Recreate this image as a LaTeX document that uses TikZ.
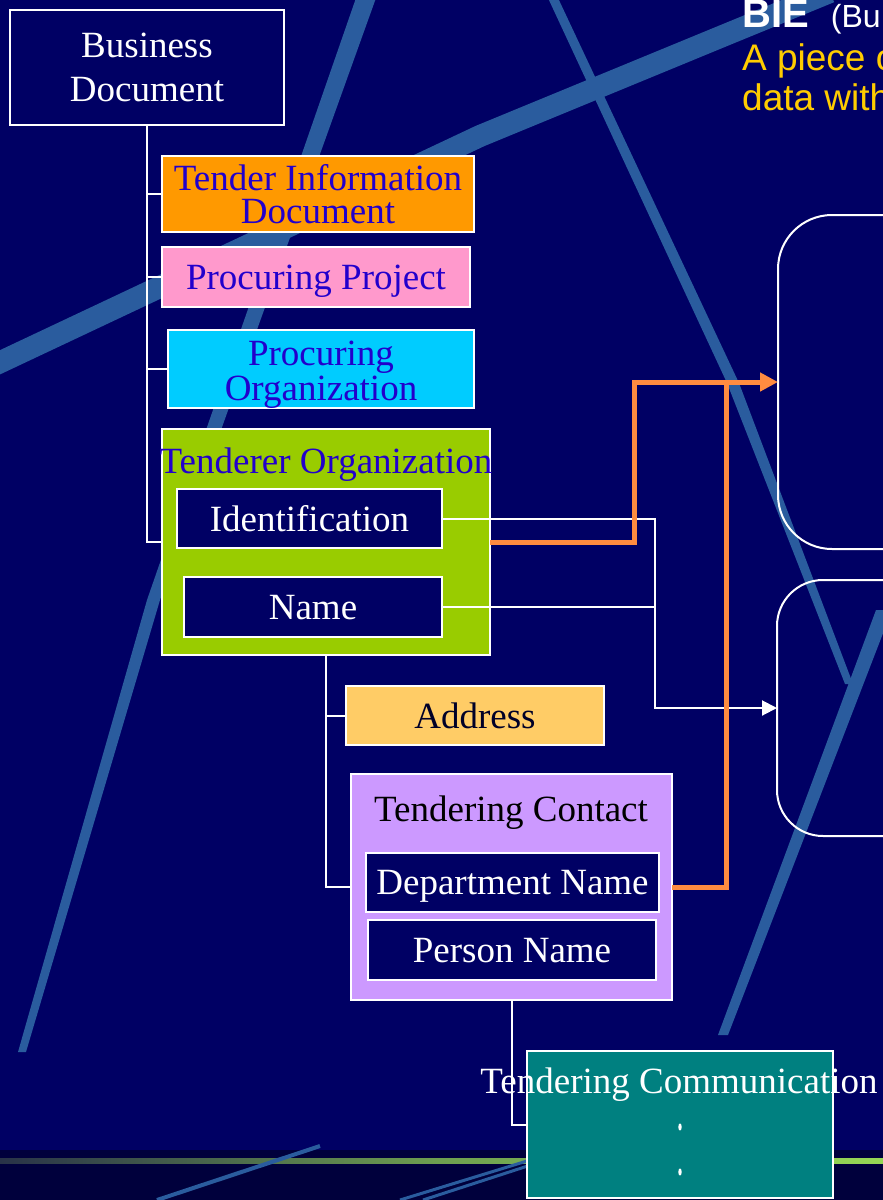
\documentclass[tikz,border=0pt]{standalone}
\usepackage{fontspec}
\setmainfont{Liberation Serif}
\newfontfamily\sansfont{Liberation Sans}
\usetikzlibrary{arrows.meta}
\definecolor{navy}{RGB}{0,0,100}
\definecolor{navydark}{RGB}{0,0,60}
\definecolor{stripecol}{RGB}{42,92,158}
\definecolor{orangebox}{RGB}{255,153,0}
\definecolor{pinkbox}{RGB}{255,153,204}
\definecolor{cyanbox}{RGB}{0,204,255}
\definecolor{greenbox}{RGB}{153,204,0}
\definecolor{addrbox}{RGB}{255,204,102}
\definecolor{lilacbox}{RGB}{204,153,255}
\definecolor{tealbox}{RGB}{0,128,128}
\definecolor{bluetext}{RGB}{34,0,204}
\definecolor{darktext}{RGB}{0,0,40}
\definecolor{linkorange}{RGB}{255,140,64}
\definecolor{bieyellow}{RGB}{255,204,0}
\definecolor{greenleft}{RGB}{40,50,72}
\definecolor{greenmid}{RGB}{110,160,80}
\definecolor{greenright}{RGB}{150,215,85}
\begin{document}
\begin{tikzpicture}[x=1pt,y=-1pt,
  tbox/.style={draw=white, line width=2pt, inner sep=0pt, outer sep=0pt, anchor=north west},
  boxtxt/.style={font=\fontsize{37}{40}\selectfont, text depth=0pt},
  ttl/.style={font=\fontsize{37}{40}\selectfont, inner sep=0pt, anchor=base},
  tree/.style={draw=white, line width=2pt},
  wlink/.style={draw=white, line width=2pt},
  olink/.style={draw=linkorange, line width=5pt},
  bietxt/.style={anchor=base west, inner sep=0pt},
  dotmark/.style={fill=white}
]
\useasboundingbox (0,0) rectangle (883,1200);
\clip (0,0) rectangle (883,1200);
% background
\fill[navy] (0,0) rectangle (883,1200);
\fill[navydark] (0,1150) rectangle (883,1200);
\shade[left color=greenleft, right color=greenright, middle color=greenmid] (0,1158.5) rectangle (883,1163.5);
% decorative stripes
\draw[stripecol, line width=22pt, line join=round] (-10,367) -- (480,136) -- (730,33) -- (830,-8);
\fill[stripecol] (356,-2) -- (376,-2) -- (160,600) -- (26,1052) -- (18,1052) -- (147,600) -- cycle;
\fill[stripecol] (548,-2) -- (558,-2) -- (739,383) -- (853,684) -- (845,684) -- (727,383) -- cycle;
\fill[stripecol] (876,610) -- (892,610) -- (728,1035) -- (718,1035) -- cycle;
\draw[stripecol, line width=4pt] (157,1200) -- (320,1146);
\draw[stripecol, line width=3pt] (400,1200) -- (540,1157);
\draw[stripecol, line width=3pt] (423,1200) -- (540,1162);

% BIE text
\node[bietxt, text=white, font=\sansfont\bfseries\fontsize{40}{42}\selectfont] (bie-t) at (742,27) {BIE\hspace{22pt}{\mdseries\fontsize{32}{36}\selectfont(Bu}};
\node[bietxt, text=bieyellow, font=\sansfont\fontsize{37}{40}\selectfont] (bie-l1) at (742,70) {A piece o};
\node[bietxt, text=bieyellow, font=\sansfont\fontsize{37}{40}\selectfont] (bie-l2) at (742,110) {data with};

% BIE boxes
\node[tbox, rounded corners=54pt, minimum width=220pt, minimum height=334pt] (bie1) at (778,215) {};
\node[tbox, rounded corners=46pt, minimum width=220pt, minimum height=256pt] (bie2) at (777,580) {};

% tree boxes
\node[tbox, fill=navy, minimum width=274pt, minimum height=115pt, align=center, text=white, font=\fontsize{37}{44}\selectfont] (bd) at (10,10) {Business\\Document};
\node[tbox, fill=orangebox, minimum width=312pt, minimum height=76pt, align=center, text=bluetext, font=\fontsize{37}{33}\selectfont] (tid) at (162,156) {Tender Information\\Document};
\node[tbox, boxtxt, fill=pinkbox, minimum width=308pt, minimum height=60pt, text=bluetext] (pp) at (162,247) {Procuring Project};
\node[tbox, fill=cyanbox, minimum width=306pt, minimum height=72pt, align=center, text=bluetext, font=\fontsize{37}{35}\selectfont] (po) at (168,330) {\rule{0pt}{35pt}Procuring\\Organization};

\node[tbox, fill=greenbox, minimum width=328pt, minimum height=226pt] (tend) at (162,429) {};
\node[ttl, text=bluetext] (tend-t) at (326,473) {Tenderer Organization};
\node[tbox, boxtxt, fill=navy, minimum width=265pt, minimum height=59pt, text=white] (ident) at (177,489) {Identification};
\node[tbox, boxtxt, fill=navy, minimum width=258pt, minimum height=60pt, text=white] (name) at (184,577) {Name};

\node[tbox, boxtxt, fill=addrbox, minimum width=258pt, minimum height=59pt, text=darktext] (addr) at (346,686) {Address};
\node[tbox, fill=lilacbox, minimum width=321pt, minimum height=226pt] (tcont) at (351,774) {};
\node[ttl, text=black] (tcont-t) at (511,821) {Tendering Contact};
\node[tbox, boxtxt, fill=navy, minimum width=293pt, minimum height=59pt, text=white] (dept) at (366,853) {Department Name};
\node[tbox, boxtxt, fill=navy, minimum width=288pt, minimum height=60pt, text=white] (pers) at (368,920) {Person Name};

\node[tbox, fill=tealbox, minimum width=306pt, minimum height=147pt] (tcomm) at (527,1051) {};
\node[ttl, text=white] (tcomm-t) at (679,1093) {Tendering Communication};
\fill[dotmark] (680,1127) ellipse [x radius=1.7pt, y radius=3.6pt];
\fill[dotmark] (680,1172) ellipse [x radius=1.7pt, y radius=3.6pt];

% tree connectors
\draw[tree] (bd.south) |- (tid.west);
\draw[tree] (bd.south) |- (pp.west);
\draw[tree] (bd.south) |- (po.west);
\draw[tree] (bd.south) |- (tend.west);
\draw[tree] (tend.south) |- (addr.west);
\draw[tree] (tend.south) |- (tcont.west);
\draw[tree] (tcont.south) |- (tcomm.west);

% white links
\coordinate (wsplit) at (655,607);
\draw[wlink] (ident.east) -| (wsplit);
\draw[wlink, -{Triangle[length=15pt,width=15pt]}] (name.east) -- (wsplit) |- (bie2.west);

% orange links
\coordinate (obend) at (634,542);
\coordinate (ojoin) at (726,382);
\draw[olink, -{Triangle[length=18pt,width=18pt]}] (tend.east) -- (obend) |- (bie1.west);
\draw[olink] (tcont.east) -| (ojoin);
\end{tikzpicture}
\end{document}
